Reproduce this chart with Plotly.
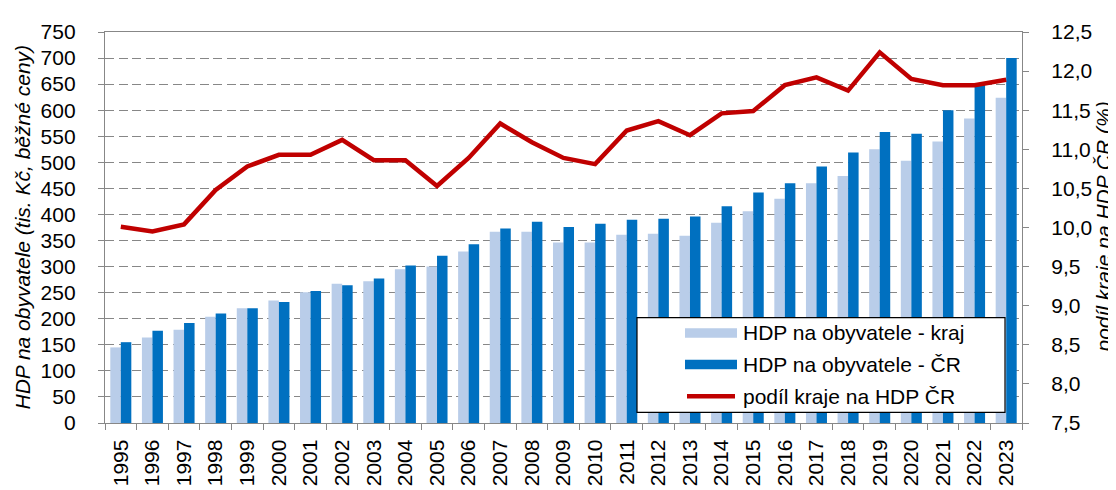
import plotly.graph_objects as go

years = [str(y) for y in range(1995, 2024)]
hdp_kraj = [145, 164, 179, 204, 220, 235, 251, 267, 272, 295, 300, 329, 367, 367, 346,
            346, 361, 363, 359, 384, 406, 430, 460, 474, 525, 503, 540, 584, 624]
hdp_cr = [155, 177, 192, 210, 220, 232, 253, 264, 277, 302, 321, 343, 373, 386, 376,
          382, 390, 392, 396, 416, 442, 460, 492, 519, 558, 555, 600, 652, 700]
podil = [10.01, 9.95, 10.04, 10.48, 10.78, 10.93, 10.93, 11.12, 10.86, 10.86, 10.53,
         10.89, 11.33, 11.09, 10.89, 10.81, 11.24, 11.36, 11.18, 11.46, 11.49,
         11.82, 11.92, 11.75, 12.24, 11.90, 11.82, 11.82, 11.89]
series_names = ["HDP na obyvatele - kraj", "HDP na obyvatele - ČR", "podíl kraje na HDP ČR"]
left_title = "HDP na obyvatele (tis. Kč, běžné ceny)"
right_title = "podíl kraje na HDP ČR (%)"
left_ticks = list(range(0, 751, 50))
right_ticks = [7.5 + 0.5 * i for i in range(11)]
right_labels = [f"{v:.1f}".replace(".", ",") for v in right_ticks]

C_KRAJ = "#B9CDE9"
C_CR = "#0070C0"
C_LINE = "#C00000"
GRID = "#878787"
FONT = "Liberation Sans, Arial, sans-serif"
FS = 21

fig = go.Figure()
fig.add_trace(go.Bar(x=years, y=hdp_kraj, name=series_names[0], marker_color=C_KRAJ,
                     marker_line_width=0, showlegend=False))
fig.add_trace(go.Bar(x=years, y=hdp_cr, name=series_names[1], marker_color=C_CR,
                     marker_line_width=0, showlegend=False))
fig.add_trace(go.Scatter(x=years, y=podil, name=series_names[2], mode="lines",
                         line=dict(color=C_LINE, width=4.5), yaxis="y2", showlegend=False))

# plot area in pixels (for custom legend / title placement)
W, H = 1116, 490
L, R, T, B = 97, 102, 23, 59
pw, ph = W - L - R, H - T - B


def px(xp):
    return (xp - L) / pw


def py(yp):
    return (H - B - yp) / ph


shapes = [dict(type="rect", xref="paper", yref="paper", x0=px(629), x1=px(997),
               y0=py(420), y1=py(321), line=dict(color="#000000", width=1.2),
               fillcolor="white", layer="above")]
annotations = []
rows = [337, 370, 403]
for i, (name, yc) in enumerate(zip(series_names, rows)):
    if i < 2:
        shapes.append(dict(type="rect", xref="paper", yref="paper", x0=px(677), x1=px(729),
                           y0=py(yc + 5), y1=py(yc - 5), line=dict(width=0),
                           fillcolor=[C_KRAJ, C_CR][i], layer="above"))
    else:
        shapes.append(dict(type="line", xref="paper", yref="paper", x0=px(679), x1=px(727),
                           y0=py(yc), y1=py(yc), line=dict(color=C_LINE, width=4.5),
                           layer="above"))
    annotations.append(dict(xref="paper", yref="paper", x=px(733), y=py(yc), text=name,
                            showarrow=False, xanchor="left", yanchor="middle",
                            font=dict(size=FS, color="#000000", family=FONT)))

# axis titles (rotated text renders ~8px right of its anchor)
annotations.append(dict(xref="paper", yref="paper", x=px(14), y=py(227), text=f"<i>{left_title}</i>",
                        textangle=-90, showarrow=False, xanchor="center", yanchor="middle",
                        font=dict(size=FS, color="#000000", family=FONT)))
annotations.append(dict(xref="paper", yref="paper", x=px(1095), y=py(227), text=f"<i>{right_title}</i>",
                        textangle=-90, showarrow=False, xanchor="center", yanchor="middle",
                        font=dict(size=FS, color="#000000", family=FONT)))

fig.update_layout(
    width=W, height=H,
    margin=dict(l=L, r=R, t=T, b=B),
    paper_bgcolor="white", plot_bgcolor="white",
    font=dict(family=FONT, size=FS, color="#000000"),
    barmode="group", bargap=0.335, bargroupgap=0,
    shapes=shapes, annotations=annotations,
    xaxis=dict(type="category", showline=True, linecolor=GRID, linewidth=1.3, mirror=True,
               ticks="outside", ticklen=6, tickcolor=GRID, tickwidth=1.3,
               tickson="boundaries", tickangle=-90, ticklabelstandoff=7,
               showgrid=False, tickfont=dict(size=FS)),
    yaxis=dict(range=[0, 750], tickvals=left_ticks, showline=True, linecolor=GRID,
               linewidth=1.3, ticks="outside", ticklen=6, tickcolor=GRID, tickwidth=1.3,
               showgrid=True, gridcolor=GRID, gridwidth=1.3, griddash="9px,4.5px",
               zeroline=False, ticklabelstandoff=18),
    yaxis2=dict(range=[7.5, 12.5], tickvals=right_ticks, ticktext=right_labels,
                overlaying="y", side="right", showline=True, linecolor=GRID, linewidth=1.3,
                ticks="outside", ticklen=6, tickcolor=GRID, tickwidth=1.3, showgrid=False,
                zeroline=False, ticklabelstandoff=18),
)

fig.write_html("out.html")
